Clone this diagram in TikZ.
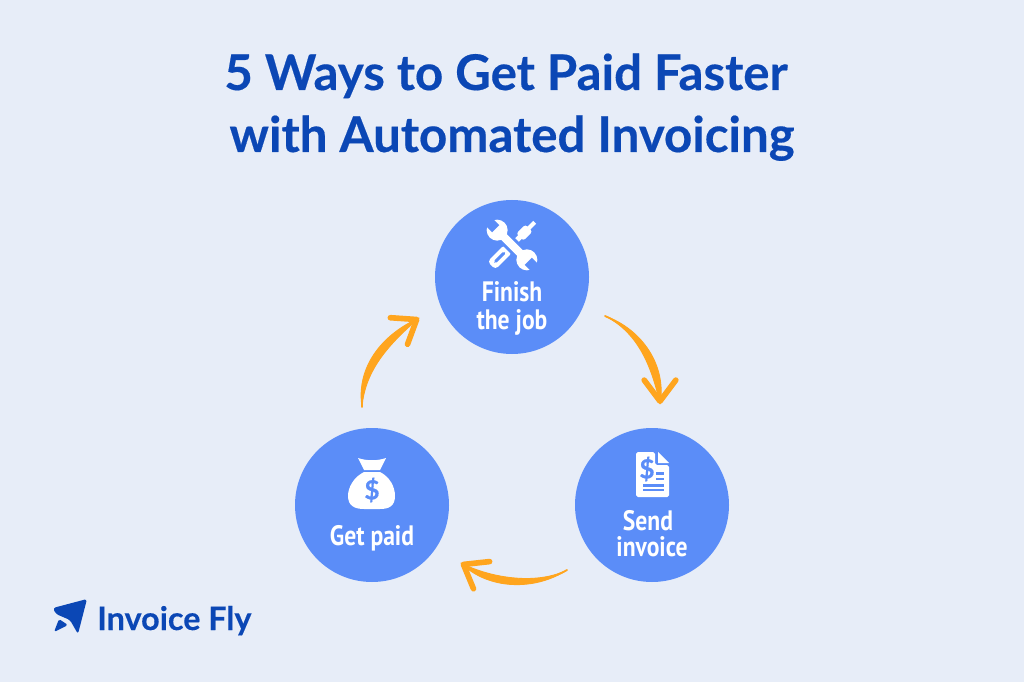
\documentclass[tikz,border=0pt]{standalone}
\usepackage{fontspec}
\setmainfont[BoldFeatures={FakeBold=0.35}]{Lato}
\newfontfamily\labelfont[FakeStretch=0.84]{PT Sans}
\usepackage{tikz}
\usetikzlibrary{arrows.meta}
\definecolor{pagebg}{HTML}{E7EDF8}
\definecolor{titleblue}{HTML}{0B47B5}
\definecolor{discblue}{HTML}{5B8DF8}
\definecolor{amber}{HTML}{FFA51E}
\begin{document}
\begin{tikzpicture}[x=0.02cm,y=-0.02cm]
	\tikzstyle{disc}=[circle,fill=discblue,minimum size=154*0.02cm,inner sep=0pt]
	\tikzstyle{steplabel}=[text=white,font=\labelfont\bfseries\fontsize{16}{18}\selectfont,inner sep=0pt,anchor=base]
	\tikzstyle{headline}=[text=titleblue,font=\bfseries\fontsize{28}{32}\selectfont,inner sep=0pt,anchor=base]
	\tikzstyle{curl}=[draw=amber,line width=1pt,line cap=round,-{Straight Barb[length=12pt,width=18pt,line width=3.2pt,round]}]
	\tikzstyle{curlbody}=[fill=amber,draw=amber,line width=0.5pt,line join=round]
	\fill[pagebg] (0,0) rectangle (1024,682);
	\useasboundingbox (0,0) rectangle (1024,682);
	\node[headline] (title1) at (506,90) {5 Ways to Get Paid Faster};
	\node[headline] (title2) at (512,152) {with Automated Invoicing};
	\node[disc] (1) at (512,277) {};
	\node[disc] (2) at (652,505) {};
	\node[disc] (3) at (372,505) {};
	\node[steplabel] (4) at (512,301) {Finish};
	\node[steplabel] (5) at (512,329) {the job};
	\node[steplabel] (6) at (648,530) {Send};
	\node[steplabel] (7) at (652,556) {invoice};
	\node[steplabel] (8) at (372,545) {Get paid};
	\coordinate (a) at (605,316);
	\coordinate (b) at (660,404);
	\coordinate (c) at (567,570);
	\coordinate (d) at (461,563);
	\coordinate (e) at (362,407);
	\coordinate (f) at (419,318);
	\fill[curlbody] (a) .. controls (642,329) and (667,366) .. (b) .. controls (652,368) and (639,333) .. (a);
	\draw[curl] (a) .. controls (640,331) and (660,366) .. (b);
	\fill[curlbody] (c) .. controls (535,591) and (488,590) .. (d) .. controls (488,577) and (535,586) .. (c);
	\draw[curl] (c) .. controls (535,589) and (488,579) .. (d);
	\fill[curlbody] (e) .. controls (356,368) and (381,335) .. (f) .. controls (389,344) and (365,370) .. (e);
	\draw[curl] (e) .. controls (360,367) and (385,340) .. (f);
	\begin{scope}[shift={(512,245)},rotate=-45]
		\fill[white,rounded corners=2pt] (-5.5,5) rectangle (5.5,29);
		\fill[discblue,rounded corners=1pt] (-1.5,10) rectangle (1.5,25);
		\fill[white] (-2.5,-12) rectangle (2.5,5);
		\fill[white,rounded corners=1.5pt] (-5,-24) rectangle (5,-11);
		\fill[white] (-2,-32) rectangle (2,-22);
	\end{scope}
	\begin{scope}[shift={(512,245)},rotate=45]
		\fill[discblue] (-7,-12) rectangle (7,12);
		\fill[white] (-3.9,-22) rectangle (3.9,22);
		\fill[white] (0,-21) circle (10.5);
		\fill[white] (0,21) circle (10.5);
		\fill[discblue] (-5,-34) rectangle (5,-23);
		\fill[discblue] (-5,34) rectangle (5,23);
	\end{scope}
	\fill[white,rounded corners=1pt] (636,452) -- (655,452) -- (655,465) -- (669,465) -- (669,497) -- (636,497) -- cycle;
	\fill[white] (658,452) -- (669,463) -- (658,463) -- cycle;
	\node[text=discblue,font=\bfseries\fontsize{15}{15}\selectfont,inner sep=0pt] (9) at (647,469) {\$};
	\fill[discblue] (656,472) rectangle (664,474.5);
	\fill[discblue] (656,477.5) rectangle (664,480);
	\fill[discblue] (643,484) rectangle (664,486.5);
	\fill[discblue] (643,488.5) rectangle (664,491);
	\fill[white,line join=round] (358,458) .. controls (367,461) and (377,461) .. (386,458) -- (380,470) -- (364,470) -- cycle;
	\fill[white] (364,472) .. controls (354,477) and (348,487) .. (348,496) .. controls (348,506) and (355,509) .. (364,509) -- (380,509) .. controls (389,509) and (395,506) .. (395,496) .. controls (395,487) and (390,477) .. (380,472) -- cycle;
	\node[text=discblue,font=\bfseries\fontsize{15}{15}\selectfont,inner sep=0pt] (10) at (372,490) {\$};
	\fill[titleblue,rounded corners=1.5pt] (53,608) -- (87,599) -- (78,634) -- (70,620) -- (56,614) -- cycle;
	\fill[titleblue,rounded corners=1pt] (59,619) -- (68,625) -- (54,632) -- cycle;
	\node[text=titleblue,font=\bfseries\fontsize{18.4}{20}\selectfont,inner sep=0pt,anchor=base west] (11) at (97,630) {Invoice Fly};
\end{tikzpicture}
\end{document}
